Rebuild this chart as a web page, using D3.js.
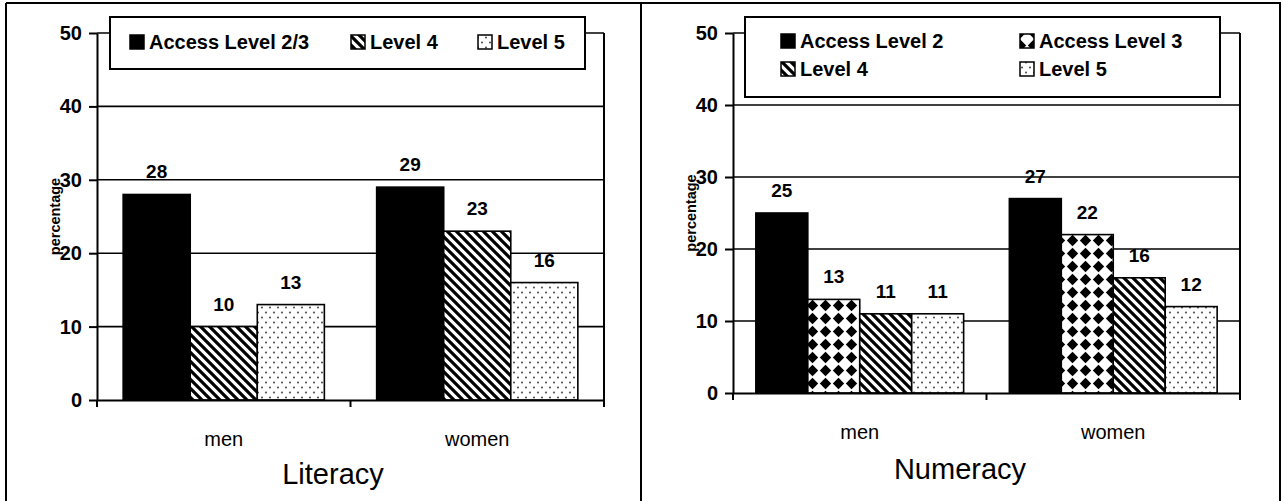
<!DOCTYPE html>
<html><head><meta charset="utf-8">
<script src="https://cdn.jsdelivr.net/npm/d3@7"></script>
<style>
html,body{margin:0;padding:0;background:#fff;}
svg{display:block;font-family:"Liberation Sans",Arial,sans-serif;}
</style></head>
<body>
<svg id="chart" width="1283" height="501"></svg>
<script>
// ---------- data ----------
const categories = ["men", "women"];
const yTicks = [0, 10, 20, 30, 40, 50];

const litSeries = ["Access Level 2/3", "Level 4", "Level 5"];
const litLevel23 = [28, 29];
const litLevel4 = [10, 23];
const litLevel5 = [13, 16];

const numSeries = ["Access Level 2", "Access Level 3", "Level 4", "Level 5"];
const numLevel2 = [25, 27];
const numLevel3 = [13, 22];
const numLevel4 = [11, 16];
const numLevel5 = [11, 12];

const yLabel = "percentage";
const panelTitles = ["Literacy", "Numeracy"];

// ---------- drawing ----------
const FONT = "Liberation Sans, Arial, sans-serif";
const svg = d3.select("#chart");
const defs = svg.append("defs");

// hatch "\" pattern
const ph = defs.append("pattern").attr("id", "hatch").attr("patternUnits", "userSpaceOnUse")
  .attr("width", 9).attr("height", 9);
ph.append("rect").attr("width", 9).attr("height", 9).attr("fill", "#fff");
ph.append("path").attr("d", "M-3,-3 L12,12 M-3,6 L3,12 M6,-3 L12,3")
  .attr("stroke", "#000").attr("stroke-width", 3.2);

// dots pattern
const pd = defs.append("pattern").attr("id", "dots").attr("patternUnits", "userSpaceOnUse")
  .attr("width", 8).attr("height", 10);
pd.append("rect").attr("width", 8).attr("height", 10).attr("fill", "#fff");
pd.append("circle").attr("cx", 2).attr("cy", 2.5).attr("r", 0.9).attr("fill", "#333");
pd.append("circle").attr("cx", 6).attr("cy", 7.5).attr("r", 0.9).attr("fill", "#333");

// diamond pattern
const pk = defs.append("pattern").attr("id", "diamond").attr("patternUnits", "userSpaceOnUse")
  .attr("width", 13).attr("height", 13);
pk.append("rect").attr("width", 13).attr("height", 13).attr("fill", "#fff");
pk.append("path").attr("d", "M6.5,0.8 L12.2,6.5 L6.5,12.2 L0.8,6.5 Z").attr("fill", "#000");

// outer frame
const frame = svg.append("g").attr("stroke", "#000").attr("stroke-width", 2).attr("fill", "none");
frame.append("line").attr("x1", 6).attr("x2", 1281).attr("y1", 3).attr("y2", 3);
frame.append("line").attr("x1", 6).attr("x2", 6).attr("y1", 3).attr("y2", 501);
frame.append("line").attr("x1", 641).attr("x2", 641).attr("y1", 3).attr("y2", 501);
frame.append("line").attr("x1", 1280).attr("x2", 1280).attr("y1", 3).attr("y2", 501);

function drawPanel(cfg) {
  const g = svg.append("g");
  const y = d3.scaleLinear().domain([0, 50]).range([cfg.y0, cfg.yTop]);
  const x0 = d3.scaleBand().domain(categories).range([cfg.xL, cfg.xR]);
  const x1 = d3.scaleBand().domain(cfg.series).range([0, x0.bandwidth()])
    .paddingInner(0).paddingOuter(cfg.pad);

  // gridlines
  g.append("g").selectAll("line").data(yTicks.filter(t => t > 0)).join("line")
    .attr("x1", cfg.xL).attr("x2", cfg.xR)
    .attr("y1", d => y(d)).attr("y2", d => y(d))
    .attr("stroke", "#000").attr("stroke-width", 1.6);
  // right frame of plot
  g.append("line").attr("x1", cfg.xR).attr("x2", cfg.xR)
    .attr("y1", y(50)).attr("y2", y(0) + 6)
    .attr("stroke", "#000").attr("stroke-width", 2);

  // bars
  const rows = [];
  cfg.series.forEach((s, i) => {
    categories.forEach((c, j) => rows.push({ s, c, v: cfg.values[i][j], fill: cfg.fills[i] }));
  });
  g.append("g").selectAll("rect").data(rows).join("rect")
    .attr("x", d => x0(d.c) + x1(d.s))
    .attr("y", d => y(d.v))
    .attr("width", x1.bandwidth())
    .attr("height", d => y(0) - y(d.v))
    .attr("fill", d => d.fill)
    .attr("stroke", "#000").attr("stroke-width", 1.6);

  // value labels
  g.append("g").selectAll("text").data(rows).join("text")
    .attr("x", d => x0(d.c) + x1(d.s) + x1.bandwidth() / 2)
    .attr("y", d => y(d.v) - 16)
    .attr("text-anchor", "middle")
    .attr("font-size", 19).attr("font-weight", "bold")
    .text(d => d.v);

  // y axis
  const ya = g.append("g").attr("transform", `translate(${cfg.xL},0)`)
    .call(d3.axisLeft(y).tickValues(yTicks).tickSize(8).tickPadding(7).tickSizeOuter(0));
  ya.select(".domain").attr("stroke-width", 2);
  ya.selectAll(".tick line").attr("stroke-width", 2);
  ya.selectAll("text").attr("font-size", 20).attr("font-weight", "bold")
    .attr("font-family", FONT).attr("fill", "#000");

  // x axis
  const xa = g.append("g").attr("transform", `translate(0,${cfg.y0})`)
    .call(d3.axisBottom(x0).tickSize(0).tickPadding(32).tickSizeOuter(0));
  xa.select(".domain").attr("stroke-width", 2);
  xa.selectAll("text").attr("font-size", 20)
    .attr("font-family", FONT).attr("fill", "#000");
  // category boundary ticks
  g.append("g").selectAll("line").data([cfg.xL, (cfg.xL + cfg.xR) / 2, cfg.xR]).join("line")
    .attr("x1", d => d).attr("x2", d => d)
    .attr("y1", cfg.y0).attr("y2", cfg.y0 + 7)
    .attr("stroke", "#000").attr("stroke-width", 2);

  // y label
  g.append("text")
    .attr("transform", `translate(${cfg.xL - 37},${(cfg.y0 + cfg.yTop) / 2}) rotate(-90)`)
    .attr("text-anchor", "middle").attr("font-size", 14.5).attr("font-weight", "bold")
    .text(yLabel);

  // panel title
  g.append("text").attr("x", cfg.titleX).attr("y", cfg.titleY)
    .attr("text-anchor", "middle").attr("font-size", 29).text(cfg.title);

  // legend
  const lg = g.append("g");
  lg.append("rect").attr("x", cfg.leg.x).attr("y", cfg.leg.y)
    .attr("width", cfg.leg.w).attr("height", cfg.leg.h)
    .attr("fill", "#fff").attr("stroke", "#000").attr("stroke-width", 2);
  cfg.series.forEach((s, i) => {
    const p = cfg.leg.items[i];
    lg.append("rect").attr("x", p[0]).attr("y", p[1] - 7).attr("width", 14).attr("height", 14)
      .attr("fill", cfg.fills[i]).attr("stroke", "#000").attr("stroke-width", 1.5);
    lg.append("text").attr("x", p[0] + 19).attr("y", p[1] + 7)
      .attr("font-size", 20).attr("font-weight", "bold").text(s);
  });
}

drawPanel({
  series: litSeries,
  values: [litLevel23, litLevel4, litLevel5],
  fills: ["#000", "url(#hatch)", "url(#dots)"],
  xL: 97, xR: 604, y0: 400, yTop: 33, pad: 0.39,
  title: panelTitles[0], titleX: 333, titleY: 484,
  leg: { x: 110, y: 17, w: 475, h: 52, items: [[130, 42], [351, 42], [478, 42]] }
});

drawPanel({
  series: numSeries,
  values: [numLevel2, numLevel3, numLevel4, numLevel5],
  fills: ["#000", "url(#diamond)", "url(#hatch)", "url(#dots)"],
  xL: 733, xR: 1240, y0: 393, yTop: 33, pad: 0.44,
  title: panelTitles[1], titleX: 960, titleY: 479,
  leg: { x: 745, y: 17, w: 475, h: 80, items: [[781, 41], [1020, 41], [781, 69], [1020, 69]] }
});
</script>
</body></html>
